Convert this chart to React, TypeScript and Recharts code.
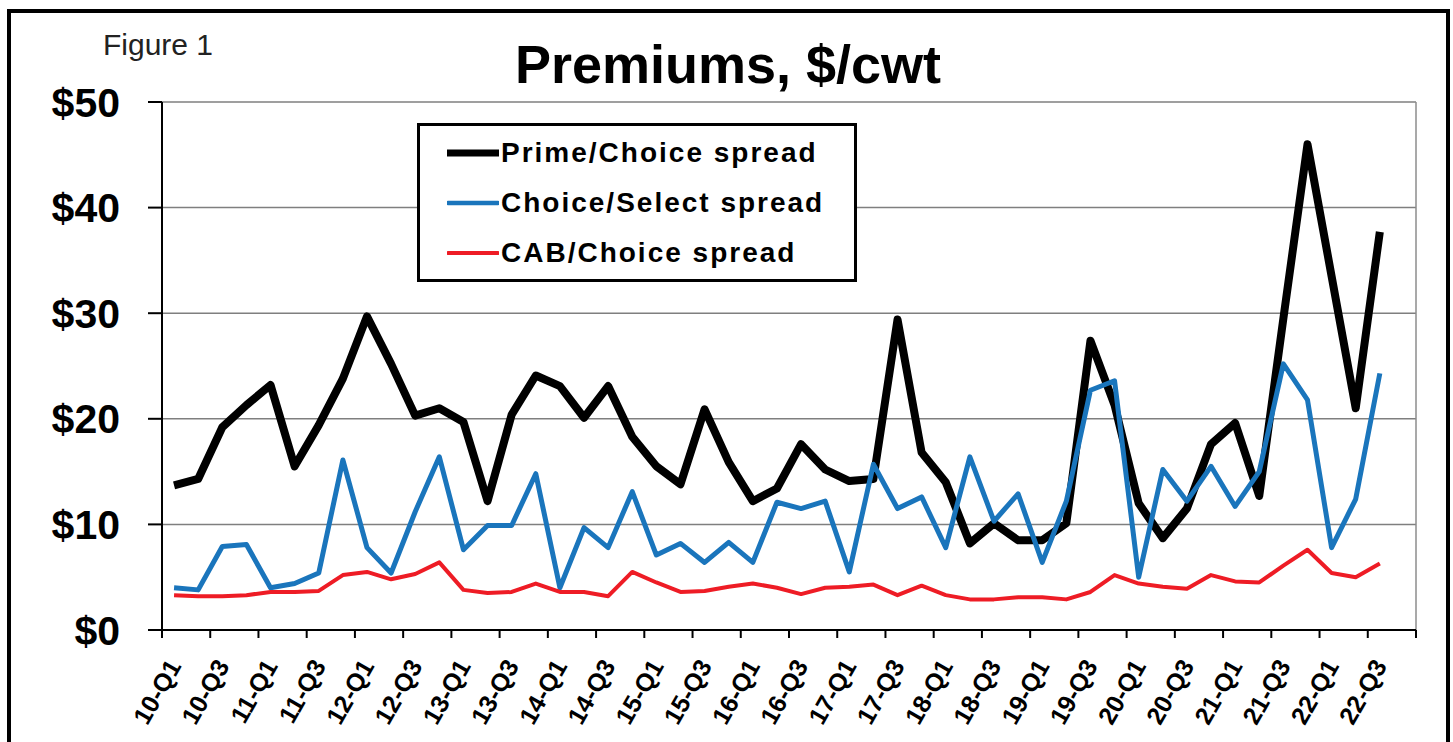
import React from 'react';
import { LineChart, Line, XAxis, YAxis, CartesianGrid, Legend, ReferenceLine } from 'recharts';

const FONT = '"Liberation Sans", Arial, sans-serif';

// quarters, 10-Q1 .. 22-Q4 (last one empty)
const QUARTERS = [
  '10-Q1', '10-Q2', '10-Q3', '10-Q4', '11-Q1', '11-Q2', '11-Q3', '11-Q4',
  '12-Q1', '12-Q2', '12-Q3', '12-Q4', '13-Q1', '13-Q2', '13-Q3', '13-Q4',
  '14-Q1', '14-Q2', '14-Q3', '14-Q4', '15-Q1', '15-Q2', '15-Q3', '15-Q4',
  '16-Q1', '16-Q2', '16-Q3', '16-Q4', '17-Q1', '17-Q2', '17-Q3', '17-Q4',
  '18-Q1', '18-Q2', '18-Q3', '18-Q4', '19-Q1', '19-Q2', '19-Q3', '19-Q4',
  '20-Q1', '20-Q2', '20-Q3', '20-Q4', '21-Q1', '21-Q2', '21-Q3', '21-Q4',
  '22-Q1', '22-Q2', '22-Q3', '22-Q4',
];

const PRIME_CHOICE = [
  13.7, 14.3, 19.2, 21.3, 23.2, 15.5, 19.4, 23.8,
  29.7, 25.2, 20.3, 21.0, 19.7, 12.2, 20.4, 24.1,
  23.1, 20.1, 23.1, 18.3, 15.5, 13.8, 20.9, 15.9,
  12.2, 13.4, 17.6, 15.2, 14.1, 14.3, 29.4, 16.8,
  14.0, 8.2, 10.1, 8.5, 8.5, 10.1, 27.4, 21.3,
  12.0, 8.7, 11.5, 17.6, 19.6, 12.7, 29.5, 46.0,
  33.5, 21.0, 37.7,
];

const CHOICE_SELECT = [
  4.0, 3.8, 7.9, 8.1, 4.0, 4.4, 5.4, 16.1,
  7.8, 5.4, 11.2, 16.4, 7.6, 9.9, 9.9, 14.8,
  4.0, 9.7, 7.8, 13.1, 7.1, 8.2, 6.4, 8.3,
  6.4, 12.1, 11.5, 12.2, 5.5, 15.7, 11.5, 12.6,
  7.8, 16.4, 10.3, 12.9, 6.4, 12.2, 22.7, 23.6,
  5.0, 15.2, 12.2, 15.5, 11.7, 15.0, 25.2, 21.8,
  7.8, 12.4, 24.3,
];

const CAB_CHOICE = [
  3.3, 3.2, 3.2, 3.3, 3.6, 3.6, 3.7, 5.2,
  5.5, 4.8, 5.3, 6.4, 3.8, 3.5, 3.6, 4.4,
  3.6, 3.6, 3.2, 5.5, 4.5, 3.6, 3.7, 4.1,
  4.4, 4.0, 3.4, 4.0, 4.1, 4.3, 3.3, 4.2,
  3.3, 2.9, 2.9, 3.1, 3.1, 2.9, 3.6, 5.2,
  4.4, 4.1, 3.9, 5.2, 4.6, 4.5, 6.1, 7.6,
  5.4, 5.0, 6.3,
];

const Y_TICKS = [0, 10, 20, 30, 40, 50];

const SERIES = [
  { key: 'prime', name: 'Prime/Choice spread', color: '#000000', width: 8, legendWidth: 7 },
  { key: 'select', name: 'Choice/Select spread', color: '#1a75bc', width: 5, legendWidth: 4.5 },
  { key: 'cab', name: 'CAB/Choice spread', color: '#ee1c25', width: 4, legendWidth: 4 },
];

const W = 1453;
const H = 742;
const MARGIN = { top: 102, right: 37, bottom: 12, left: 0 };
const Y_AXIS_W = 162;
const PLOT_W = W - MARGIN.left - MARGIN.right - Y_AXIS_W;
const BAND = PLOT_W / QUARTERS.length;

// category i is drawn at the middle of its band on a 0..52 number axis
const rows = QUARTERS.map((q, i) => ({
  x: i + 0.5,
  quarter: q,
  prime: PRIME_CHOICE[i] ?? null,
  select: CHOICE_SELECT[i] ?? null,
  cab: CAB_CHOICE[i] ?? null,
}));

const xTicks = QUARTERS.map((_, i) => i).filter(i => i % 2 === 0).concat(QUARTERS.length);

function XTick(props: any) {
  const { x, y, payload } = props;
  const idx = payload.value;
  const label = QUARTERS[idx];
  if (!label || idx >= PRIME_CHOICE.length) return <g />;
  const ax = x + BAND / 2 + 8;
  const ay = y + 28;
  return (
    <text x={ax} y={ay} textAnchor="end" transform={`rotate(-60 ${ax} ${ay})`}
      fontFamily={FONT} fontSize={25} fontWeight="bold" fill="#000">
      {label}
    </text>
  );
}

function LegendBox() {
  return (
    <div style={{ position: 'relative', width: 440, height: 159, boxSizing: 'border-box', border: '3px solid #000', background: '#fff', fontFamily: FONT }}>
      {SERIES.map((s, i) => (
        <div key={s.key} style={{ position: 'absolute', left: 27, top: 27 + i * 50 - 20, height: 40, display: 'flex', alignItems: 'center' }}>
          <svg width={52} height={12}>
            <line x1={1} y1={6} x2={51} y2={6} stroke={s.color} strokeWidth={s.legendWidth} strokeLinecap="round" />
          </svg>
          <span style={{ marginLeft: 2, fontSize: 28, fontWeight: 'bold', letterSpacing: 2, color: '#000', whiteSpace: 'nowrap' }}>{s.name}</span>
        </div>
      ))}
    </div>
  );
}

export default function App() {
  return (
    <div style={{ position: 'absolute', left: 0, top: 0, width: W, height: H, background: '#fff', overflow: 'hidden', fontFamily: FONT }}>
      <div style={{ position: 'absolute', left: 7, top: 9, width: 1443, height: H - 9, boxSizing: 'border-box', borderTop: '4px solid #000', borderLeft: '4px solid #000', borderRight: '4px solid #000' }} />
      <div style={{ position: 'absolute', left: 103, top: 30, fontSize: 30, lineHeight: '30px', color: '#222' }}>Figure 1</div>
      <div style={{ position: 'absolute', left: 0, width: 1456, top: 37, textAlign: 'center', fontSize: 54, lineHeight: '54px', fontWeight: 'bold', color: '#000' }}>
        Premiums, $/cwt
      </div>
      <div style={{ position: 'absolute', left: 0, top: 0 }}>
        <LineChart width={W} height={H} data={rows} margin={MARGIN}>
          <CartesianGrid horizontal vertical={false} stroke="#7f7f7f" strokeWidth={1.5} />
          <ReferenceLine x={QUARTERS.length} stroke="#8c8c8c" strokeWidth={1.5} />
          <XAxis dataKey="x" type="number" domain={[0, QUARTERS.length]} ticks={xTicks} interval={0}
            height={100} tickSize={8} tickMargin={0} tick={<XTick />}
            axisLine={{ stroke: '#000', strokeWidth: 2 }} tickLine={{ stroke: '#000', strokeWidth: 2 }} />
          <YAxis type="number" domain={[0, 50]} ticks={Y_TICKS} width={Y_AXIS_W} tickSize={14} tickMargin={28}
            tickFormatter={v => `$${v}`} interval={0}
            tick={{ fontSize: 41, fontWeight: 'bold', fill: '#000', fontFamily: FONT }}
            axisLine={{ stroke: '#000', strokeWidth: 2 }} tickLine={{ stroke: '#000', strokeWidth: 2 }} />
          {SERIES.map(s => (
            <Line key={s.key} dataKey={s.key} name={s.name} type="linear" stroke={s.color} strokeWidth={s.width}
              strokeLinejoin="round" dot={false} activeDot={false} isAnimationActive={false} connectNulls={false} />
          ))}
          <Legend layout="vertical" align="center" verticalAlign="middle" content={() => <LegendBox />}
            wrapperStyle={{ left: 417, top: 123, width: 440, height: 159 }} />
        </LineChart>
      </div>
    </div>
  );
}
